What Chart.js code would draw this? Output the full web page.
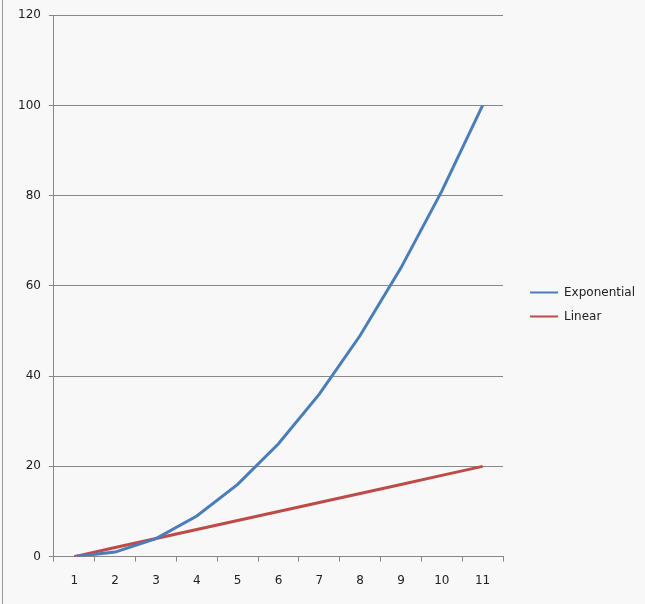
<!DOCTYPE html>
<html>
<head>
<meta charset="utf-8">
<script src="https://cdn.jsdelivr.net/npm/chart.js@4"></script>
<style>
  html, body { margin: 0; padding: 0; background: #f8f8f8; }
  #wrap { position: relative; width: 645px; height: 604px; }
  #edge { position: absolute; left: 2px; top: 0; width: 1px; height: 604px; background: #9a9a9a; }
</style>
</head>
<body>
<div id="wrap">
  <div id="edge"></div>
  <canvas id="chart" width="645" height="604"></canvas>
</div>
<script>
// 数据
const categories = ['1', '2', '3', '4', '5', '6', '7', '8', '9', '10', '11'];
const exponential = [0, 1, 4, 9, 16, 25, 36, 49, 64, 81, 100];
const linear = [0, 2, 4, 6, 8, 10, 12, 14, 16, 18, 20];

const tickFont = { family: 'DejaVu Sans, sans-serif', size: 12 };
const legendFont = { family: 'DejaVu Sans, sans-serif', size: 12 };

const ctx = document.getElementById('chart').getContext('2d');
new Chart(ctx, {
    type: 'line',
    data: {
        labels: categories,
        datasets: [
            {
                label: 'Exponential',
                data: exponential,
                borderColor: '#4a7ebb',
                backgroundColor: '#4a7ebb',
                borderWidth: 3,
                pointRadius: 0,
                fill: false,
                tension: 0
            },
            {
                label: 'Linear',
                data: linear,
                borderColor: '#be4b48',
                backgroundColor: '#be4b48',
                borderWidth: 3,
                pointRadius: 0,
                fill: false,
                tension: 0
            }
        ]
    },
    options: {
        responsive: false,
        animation: false,
        layout: { padding: { top: 9, bottom: 4, left: 10, right: 0 } },
        plugins: {
            tooltip: { enabled: false },
            legend: {
                position: 'right',
                maxWidth: 150,
                labels: {
                    boxWidth: 28,
                    boxHeight: 2,
                    padding: 12,
                    color: '#222',
                    font: legendFont,
                    generateLabels: function(chart) {
                        // 图例只画细线，不描边
                        const items = Chart.defaults.plugins.legend.labels.generateLabels(chart);
                        items.forEach(item => { item.lineWidth = 0; });
                        return items;
                    }
                }
            }
        },
        scales: {
            x: {
                offset: true,
                grid: {
                    offset: true,
                    drawOnChartArea: false,
                    drawTicks: true,
                    tickLength: 5,
                    color: '#888'
                },
                border: { color: '#888' },
                ticks: { color: '#222', font: tickFont, padding: 12, maxRotation: 0 }
            },
            y: {
                min: 0,
                max: 120,
                ticks: { stepSize: 20, color: '#222', font: tickFont, padding: 8 },
                grid: { color: '#888', tickLength: 5 },
                border: { color: '#888' }
            },
            // 图表和图例之间的空白
            gap: {
                type: 'linear',
                position: 'right',
                display: true,
                ticks: { display: false },
                grid: { display: false },
                border: { display: false },
                afterFit: function(scale) { scale.width = 15; }
            }
        }
    }
});
</script>
</body>
</html>
